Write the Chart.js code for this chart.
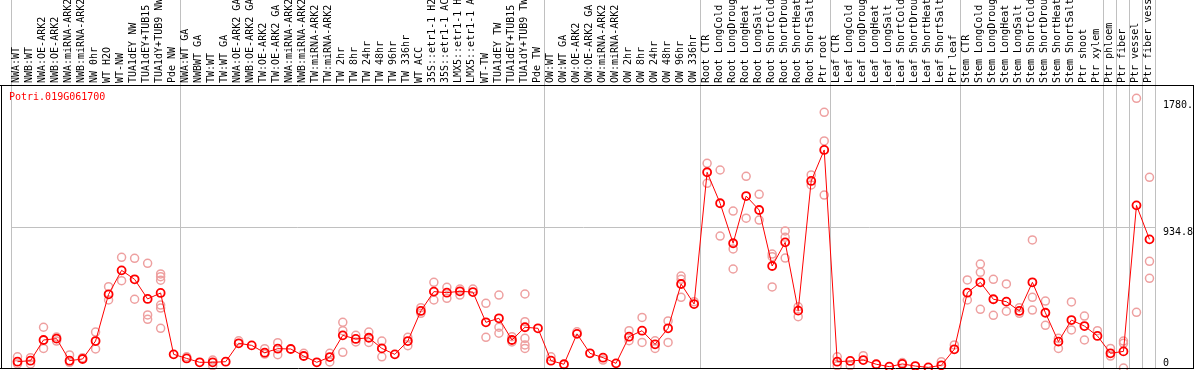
<!DOCTYPE html>
<html><head><meta charset="utf-8">
<script src="https://cdn.jsdelivr.net/npm/chart.js@4/dist/chart.umd.min.js"></script>
<style>html,body{margin:0;padding:0;background:#fff;overflow:hidden}</style>
</head><body>
<canvas id="c" width="1194" height="370"></canvas>
<script>
const geneName = 'Potri.019G061700';
const categories = [
 'NWA:WT','NWB:WT','NWA:OE-ARK2','NWB:OE-ARK2','NWA:miRNA-ARK2','NWB:miRNA-ARK2','NW 0hr','WT H2O','WT-NW','TUA1dEY NW','TUA1dEY+TUB15 NW','TUA1dY+TUB9 NW','Pde NW',
 'NWA:WT GA','NWBWT GA','TW:WT','TW:WT GA','NWA:OE-ARK2 GA','NWB:OE-ARK2 GA','TW:OE-ARK2','TW:OE-ARK2 GA','NWA:miRNA-ARK2','NWB:miRNA-ARK2','TW:miRNA-ARK2','TW:miRNA-ARK2','TW 2hr','TW 8hr','TW 24hr','TW 48hr','TW 96hr','TW 336hr','WT ACC','35S::etr1-1 H2O','35S::etr1-1 ACC','LMX5::etr1-1 H2O','LMX5::etr1-1 ACC','WT-TW','TUA1dEY TW','TUA1dEY+TUB15 TW','TUA1dY+TUB9 TW','Pde TW',
 'OW:WT','OW:WT GA','OW:OE-ARK2','OW:OE-ARK2 GA','OW:miRNA-ARK2','OW:miRNA-ARK2','OW 2hr','OW 8hr','OW 24hr','OW 48hr','OW 96hr','OW 336hr',
 'Root CTR','Root LongCold','Root LongDrought','Root LongHeat','Root LongSalt','Root ShortCold','Root ShortDrought','Root ShortHeat','Root ShortSalt','Ptr root',
 'Leaf CTR','Leaf LongCold','Leaf LongDrought','Leaf LongHeat','Leaf LongSalt','Leaf ShortCold','Leaf ShortDrought','Leaf ShortHeat','Leaf ShortSalt','Ptr leaf',
 'Stem CTR','Stem LongCold','Stem LongDrought','Stem LongHeat','Stem LongSalt','Stem ShortCold','Stem ShortDrought','Stem ShortHeat','Stem ShortSalt','Ptr shoot','Ptr xylem',
 'Ptr phloem','Ptr fiber','Ptr vessel','Ptr fiber vessel'
];
const meanValues = [
 42,49,187,196,49,60,180,492,652,592,461,501,91,
 64,38,38,42,165,151,102,129,127,80,38,73,218,194,202,131,91,180,381,510,503,512,507,305,332,187,272,265,
 49,25,228,98,69,31,209,249,158,265,561,427,
 1307,1100,833,1148,1055,681,839,383,1249,1456,
 42,47,53,25,9,27,13,4,18,125,
 503,572,459,443,381,572,369,176,320,280,214,
 98,111,1086,859
];
const replicateValues = [
 [75,27],[69,27],[272,131],[207,180],[87,38],[69],[240,127],[543,454],[739,583],[732,459],[699,354,325],[628,610,586,420,400,265],[],
 [75],[],[53,15],[],[182],[],[129,93],[169,89],[],[98],[],[98,40],[305,249,105],[218,174],[240,171],[180,75],[],[205,149],[403,365],[572,454],[539,465],[527,487],[527],[432,205],[487,272,232],[209,174],[494,309,198,154,131],[],
 [75],[],[242],[],[53],[],[249,182],[338,171],[182,131],[314,171],[614,592,472],[443],
 [1367,1233],[1322,881],[1048,795,661],[1280,1000],[1160,988],[761,743,541],[915,873,734],[409,343],[1289,1222],[1707,1516,1155],
 [75,15],[15],[82],[],[],[36],[],[],[42],[154],
 [588,454],[694,639,392],[592,352],[561,379],[403,365],[855,472,387],[447,285],[198,131],[441,254],[347,187],[249],
 [131,80],[180,165,0],[1801,372],[1273,712,599]
];
const groupStarts = [0,13,41,53,63,73,84,85,86,87];
const yTickValues = [0, 934.8, 1780.4];
const yTickLabels = ['0', '934.8', '1780.'];
const yGridValues = [934.8];
const yMax = 1889.6;

const maxReps = Math.max(...replicateValues.map(r => r.length));
const repDatasets = [];
for (let k = 0; k < maxReps; k++) {
  repDatasets.push({
    data: replicateValues.map(r => (r.length > k ? r[k] : null)),
    showLine: false, pointRadius: 4, pointBorderWidth: 1.5,
    pointBorderColor: '#eea0a0', pointBackgroundColor: 'rgba(0,0,0,0)', clip: false
  });
}
const mono = 'DejaVu Sans Mono';
const gridGray = '#c0c0c0';
const isBoundary = c => c.index === undefined || groupStarts.includes(c.index);

const framePlugin = {
  id: 'frame',
  afterDraw(chart) {
    const ctx = chart.ctx, a = chart.chartArea, W = chart.width;
    ctx.save();
    ctx.strokeStyle = '#000'; ctx.lineWidth = 1;
    ctx.beginPath();
    ctx.moveTo(0, a.top + 0.5); ctx.lineTo(W, a.top + 0.5);
    ctx.moveTo(0, a.bottom + 0.5); ctx.lineTo(W, a.bottom + 0.5);
    ctx.moveTo(1.5, a.top); ctx.lineTo(1.5, a.bottom + 1);
    ctx.moveTo(W - 0.5, a.top); ctx.lineTo(W - 0.5, a.bottom + 1);
    ctx.stroke();
    ctx.fillStyle = '#ff0000';
    ctx.font = '10px "' + mono + '"';
    ctx.textBaseline = 'middle'; ctx.textAlign = 'left';
    ctx.fillText(geneName, 9, a.top + 12);
    ctx.restore();
  }
};

new Chart(document.getElementById('c'), {
  type: 'line',
  data: {
    labels: categories,
    datasets: [{
      data: meanValues, borderColor: '#ff0000', borderWidth: 1,
      pointRadius: 4, pointBorderWidth: 1.8, pointBorderColor: '#ff0000',
      pointBackgroundColor: 'rgba(0,0,0,0)', tension: 0, clip: false
    }, ...repDatasets]
  },
  options: {
    responsive: false, animation: false, devicePixelRatio: 1,
    layout: { autoPadding: false, padding: { left: 11, right: 0, top: 0, bottom: 2 } },
    plugins: { legend: { display: false }, tooltip: { enabled: false } },
    scales: {
      x: {
        type: 'category', position: 'top', offset: true,
        grid: {
          offset: true, drawOnChartArea: true, drawTicks: true, tickLength: 85,
          color: c => isBoundary(c) ? gridGray : 'rgba(0,0,0,0)',
          tickColor: c => isBoundary(c) ? gridGray : 'rgba(0,0,0,0)',
          lineWidth: c => isBoundary(c) ? 1 : 0
        },
        border: { display: false },
        ticks: { autoSkip: false, minRotation: 90, maxRotation: 90, padding: -83, labelOffset: 11,
          color: '#000', font: { family: mono, size: 10 } },
        afterFit(s) { s.height = 85; s.paddingLeft = 0; s.paddingRight = 0; }
      },
      y: {
        position: 'right', min: 0, max: yMax,
        afterBuildTicks(s) { s.ticks = yTickValues.map(v => ({ value: v })); },
        grid: {
          drawTicks: false,
          color: c => (c.tick && yGridValues.includes(c.tick.value)) ? gridGray : 'rgba(0,0,0,0)',
          lineWidth: c => (c.tick && yGridValues.includes(c.tick.value)) ? 1 : 0
        },
        border: { display: false },
        ticks: {
          padding: 7, crossAlign: 'near', color: '#000',
          font: c => ({ family: mono, size: 10, lineHeight: c.index === 0 ? 1.0 : 0.9 }),
          callback: (v, i) => i === 0 ? [yTickLabels[i], ''] : ['', yTickLabels[i]]
        },
        afterFit(s) { s.width = 38; s.paddingTop = 0; s.paddingBottom = 0; }
      }
    }
  },
  plugins: [framePlugin]
});
</script>
</body></html>
